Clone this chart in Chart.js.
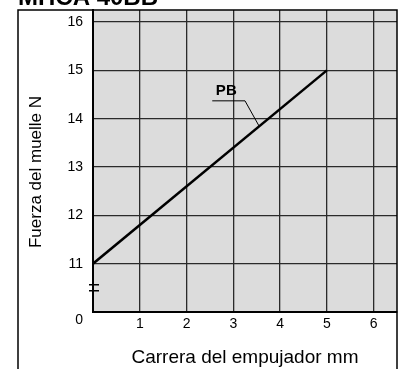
<!DOCTYPE html>
<html>
<head>
<meta charset="utf-8">
<script src="https://cdn.jsdelivr.net/npm/chart.js@4"></script>
<style>
  html, body { margin: 0; padding: 0; background: #fff; }
  #wrap { width: 401px; height: 369px; position: relative; }
</style>
</head>
<body>
<div id="wrap"><canvas id="chart"></canvas></div>
<script>
// data
const strokeMm = [0, 5];
const forcePB = [11, 15];
const xTicks = [0, 1, 2, 3, 4, 5, 6];
const yTicks = [10, 11, 12, 13, 14, 15, 16]; // 10 is drawn as "0" (broken axis)
const seriesLabel = "PB";
const yTitle = "Fuerza del muelle N";
// callout for the PB label, in data units
const calloutText = [2.85, 14.58];
const calloutPath = [[2.55, 14.37], [3.25, 14.37], [3.55, 13.85]];

const fontFamily = '"Liberation Sans", Arial, Helvetica, sans-serif';

const framePlugin = {
  id: "frame",
  beforeDraw(chart) {
    const { ctx, chartArea } = chart;
    ctx.save();
    ctx.fillStyle = "#dcdcdc";
    ctx.fillRect(chartArea.left, chartArea.top, chartArea.right - chartArea.left, chartArea.bottom - chartArea.top);
    ctx.restore();
  },
  afterDraw(chart) {
    const { ctx, chartArea } = chart;
    const x = chart.scales.x;
    const y = chart.scales.y;
    ctx.save();
    // cut off heading above the frame
    ctx.fillStyle = "#000";
    ctx.font = "bold 24px " + fontFamily;
    ctx.textBaseline = "alphabetic";
    ctx.textAlign = "left";
    ctx.fillText("MHCA 40BB", 18, 5);

    // y axis title, sits a bit below the middle in the original
    ctx.save();
    ctx.translate(36, 172);
    ctx.rotate(-Math.PI / 2);
    ctx.font = "17px " + fontFamily;
    ctx.textAlign = "center";
    ctx.textBaseline = "middle";
    ctx.fillText(yTitle, 0, 0);
    ctx.restore();

    // outer frame
    ctx.strokeStyle = "#000";
    ctx.lineWidth = 1.5;
    ctx.beginPath();
    ctx.moveTo(18, 369);
    ctx.lineTo(18, chartArea.top);
    ctx.lineTo(chartArea.right, chartArea.top);
    ctx.lineTo(chartArea.right, 369);
    ctx.stroke();

    // axis break marks
    const yb = y.getPixelForValue(10.5);
    ctx.lineWidth = 1.5;
    ctx.beginPath();
    ctx.moveTo(chartArea.left - 4, yb - 3);
    ctx.lineTo(chartArea.left + 6, yb - 3);
    ctx.moveTo(chartArea.left - 4, yb + 3);
    ctx.lineTo(chartArea.left + 6, yb + 3);
    ctx.stroke();

    // PB callout
    ctx.lineWidth = 1;
    ctx.beginPath();
    calloutPath.forEach((p, i) => {
      const px = x.getPixelForValue(p[0]);
      const py = y.getPixelForValue(p[1]);
      if (i === 0) ctx.moveTo(px, py);
      else ctx.lineTo(px, py);
    });
    ctx.stroke();
    ctx.font = "bold 15px " + fontFamily;
    ctx.textAlign = "center";
    ctx.textBaseline = "middle";
    ctx.fillText(seriesLabel, x.getPixelForValue(calloutText[0]), y.getPixelForValue(calloutText[1]));
    ctx.restore();
  },
};

new Chart(document.getElementById("chart"), {
  type: "line",
  data: {
    datasets: [
      {
        label: seriesLabel,
        data: strokeMm.map((v, i) => ({ x: v, y: forcePB[i] })),
        borderColor: "#000",
        borderWidth: 2.5,
        pointRadius: 0,
        tension: 0,
      },
    ],
  },
  options: {
    responsive: true,
    maintainAspectRatio: false,
    animation: false,
    layout: { padding: { top: 10, right: 4, left: 0, bottom: 0 } },
    plugins: {
      legend: { display: false },
      tooltip: { enabled: false },
    },
    scales: {
      x: {
        type: "linear",
        min: 0,
        max: 6.5,
        afterBuildTicks: (scale) => {
          scale.ticks = xTicks.map((v) => ({ value: v }));
        },
        afterFit: (scale) => {
          scale.height = 57;
          scale.paddingLeft = 0;
          scale.paddingRight = 0;
        },
        grid: { color: "#2a2a2a", lineWidth: 1.3, drawTicks: false },
        border: { color: "#000", width: 2 },
        ticks: {
          color: "#000",
          padding: 4,
          maxRotation: 0,
          font: { size: 14, family: fontFamily },
          callback: (v) => (v === 0 ? "" : String(v)),
        },
        title: {
          display: true,
          text: "Carrera del empujador mm",
          color: "#000",
          font: { size: 19, family: fontFamily },
          padding: { top: 0, bottom: 0 },
        },
      },
      y: {
        type: "linear",
        min: 10,
        max: 16.25,
        afterBuildTicks: (scale) => {
          scale.ticks = yTicks.map((v) => ({ value: v }));
        },
        afterFit: (scale) => {
          scale.width = 93;
          scale.paddingTop = 0;
          scale.paddingBottom = 0;
        },
        grid: { color: "#2a2a2a", lineWidth: 1.3, drawTicks: false },
        border: { color: "#000", width: 2 },
        ticks: {
          color: "#000",
          padding: 10,
          font: { size: 14, family: fontFamily },
          // the "0" sits a little below the axis corner
          callback: (v) => (v === 10 ? ["", "0"] : String(v)),
        },
      },
    },
  },
  plugins: [framePlugin],
});
</script>
</body>
</html>
